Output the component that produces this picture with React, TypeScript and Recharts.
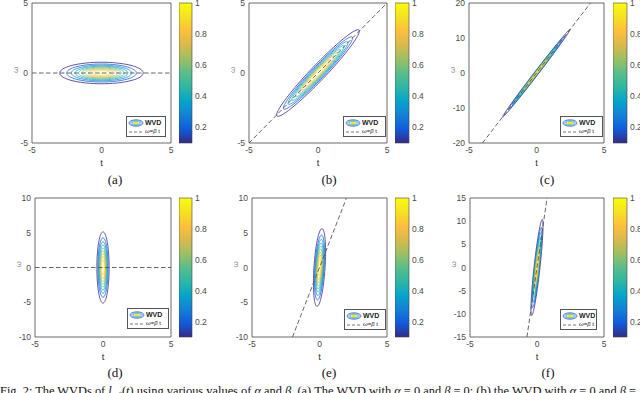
import React from "react";
import { ScatterChart, Scatter, XAxis, YAxis, ReferenceArea, ComposedChart } from "recharts";

// values
const panelLabels = ["(a)", "(b)", "(c)", "(d)", "(e)", "(f)"];
const betaValues = [0, 1, 5, 0, 5, 20];
// half width in t of the outermost (0.1) contour
const outerHalfT = [3.0, 3.0, 2.5, 0.45, 0.45, 0.45];
const omegaLimits = [5, 5, 20, 10, 10, 15];
const tLimit = 5;
const tTicks = [-5, 0, 5];
const omegaTicks = [
  [-5, 0, 5],
  [-5, 0, 5],
  [-20, -10, 0, 10, 20],
  [-10, -5, 0, 5, 10],
  [-10, -5, 0, 5, 10],
  [-15, -10, -5, 0, 5, 10, 15],
];
const contourLevels = [0.1, 0.2, 0.3, 0.4, 0.5, 0.6, 0.7, 0.8, 0.9];
const colorbarTicks = [0.2, 0.4, 0.6, 0.8, 1];
const colorbarMin = 0.1;
const colorbarMax = 1;

const parulaStops: [number, string][] = [
  [0, "#352a87"],
  [0.1, "#0f5cdd"],
  [0.2, "#1481d6"],
  [0.3, "#06a4ca"],
  [0.4, "#2eb7a4"],
  [0.5, "#5abd8a"],
  [0.6, "#9dbf64"],
  [0.7, "#d8ba4b"],
  [0.8, "#fcbf3d"],
  [0.9, "#f5e222"],
  [1, "#f9fb0e"],
];

const FONT = '"Liberation Sans", Arial, sans-serif';
const SERIF = '"Liberation Serif", "Times New Roman", serif';

const layout = [
  { left: 32, top: 3, w: 139, h: 140, cb: 179, cbw: 13, capX: 115, capY: 180, legR: 5, legB: 6, legW: 40 },
  { left: 249, top: 3, w: 138, h: 140, cb: 395, cbw: 14, capX: 329, capY: 180, legR: 1, legB: 6, legW: 43 },
  { left: 469, top: 3, w: 135, h: 140, cb: 613, cbw: 14, capX: 547, capY: 180, legR: 1, legB: 6, legW: 43 },
  { left: 35, top: 198, w: 136, h: 139, cb: 179, cbw: 13, capX: 115, capY: 373, legR: 2, legB: 8, legW: 42 },
  { left: 252, top: 198, w: 135, h: 139, cb: 395, cbw: 14, capX: 329, capY: 373, legR: 1, legB: 7, legW: 42 },
  { left: 470, top: 198, w: 134, h: 139, cb: 613, cbw: 14, capX: 548, capY: 373, legR: 7, legB: 7, legW: 37 },
];

const YW = 30;
const MT = 7;
const MR = 4;
const XH = 24;
const MB = 4;

function hexToRgb(h: string) {
  return [parseInt(h.slice(1, 3), 16), parseInt(h.slice(3, 5), 16), parseInt(h.slice(5, 7), 16)];
}

function parula(v: number) {
  const x = Math.max(0, Math.min(1, v));
  for (let i = 0; i < parulaStops.length - 1; i++) {
    const [a, ca] = parulaStops[i];
    const [b, cb] = parulaStops[i + 1];
    if (x <= b) {
      const f = (x - a) / (b - a);
      const A = hexToRgb(ca);
      const B = hexToRgb(cb);
      const c = A.map((n, k) => Math.round(n + (B[k] - n) * f));
      return `rgb(${c[0]},${c[1]},${c[2]})`;
    }
  }
  return parulaStops[parulaStops.length - 1][1];
}

// outline of one contour of the chirped gaussian WVD
function contourOutline(sigma: number, beta: number, level: number) {
  const r = Math.sqrt(-Math.log(level));
  const pts = [];
  for (let k = 0; k <= 96; k++) {
    const th = (k / 96) * 2 * Math.PI;
    const t = sigma * r * Math.cos(th);
    const w = beta * t + (r / sigma) * Math.sin(th);
    pts.push({ t, w });
  }
  return pts;
}

const noShape = () => <g />;

const tickStyle = { fontSize: 8.5, fill: "#4a4a4a", fontFamily: FONT };

function LegendBox({ width }: { width: number }) {
  return (
    <div
      style={{
        width,
        height: 21,
        boxSizing: "border-box",
        border: "0.8px solid #555",
        background: "#fff",
        fontFamily: FONT,
        color: "#222",
        fontSize: 7,
        lineHeight: "9.5px",
        paddingTop: 0.5,
      }}
    >
      <div style={{ display: "flex", alignItems: "center", height: 10 }}>
        <svg width={16} height={8} style={{ marginLeft: 1, marginRight: 1 }}>
          <ellipse cx={8} cy={4} rx={7} ry={3.2} fill="none" stroke={parula(0.05)} strokeWidth={0.7} />
          <ellipse cx={8} cy={4} rx={5.4} ry={2.3} fill="none" stroke={parula(0.25)} strokeWidth={0.7} />
          <ellipse cx={8} cy={4} rx={3.8} ry={1.5} fill="none" stroke={parula(0.45)} strokeWidth={0.7} />
          <ellipse cx={8} cy={4} rx={2.4} ry={0.9} fill={parula(0.95)} stroke={parula(0.8)} strokeWidth={0.5} />
        </svg>
        <span style={{ fontWeight: 600 }}>WVD</span>
      </div>
      <div style={{ display: "flex", alignItems: "center", height: 9 }}>
        <svg width={16} height={6} style={{ marginLeft: 1, marginRight: 1 }}>
          <line x1={1} y1={3} x2={15} y2={3} stroke="#555" strokeWidth={0.8} strokeDasharray="3 2" />
        </svg>
        <span style={{ fontSize: 6 }}>
          <i>ω</i>=<i>β</i> t
        </span>
      </div>
    </div>
  );
}

function Panel({ index }: { index: number }) {
  const box = layout[index];
  const beta = betaValues[index];
  const wMax = omegaLimits[index];
  const sigma = outerHalfT[index] / Math.sqrt(-Math.log(contourLevels[0]));
  const contours = contourLevels.map((level) => ({
    level,
    points: contourOutline(sigma, beta, level),
    color: parula((level - colorbarMin) / (colorbarMax - colorbarMin)),
  }));
  const tEnd = beta === 0 ? tLimit : Math.min(tLimit, wMax / beta);
  const ridge = [
    { t: -tEnd, w: -beta * tEnd },
    { t: tEnd, w: beta * tEnd },
  ];
  const gid = `parula-${index}`;

  return (
    <>
      <div style={{ position: "absolute", left: box.left - YW, top: box.top - MT }}>
        <ScatterChart
          width={YW + box.w + MR}
          height={MT + box.h + XH + MB}
          margin={{ top: MT, right: MR, left: 0, bottom: MB }}
        >
          <XAxis
            type="number"
            dataKey="t"
            domain={[-tLimit, tLimit]}
            ticks={tTicks}
            allowDataOverflow
            height={XH}
            axisLine={false}
            tickLine={false}
            tickSize={2}
            tickMargin={2}
            tick={tickStyle}
            label={{ value: "t", position: "insideBottom", offset: 1, fontSize: 9.5, fill: "#333", fontFamily: FONT }}
          />
          <YAxis
            type="number"
            dataKey="w"
            domain={[-wMax, wMax]}
            ticks={omegaTicks[index]}
            allowDataOverflow
            width={YW}
            axisLine={false}
            tickLine={false}
            tickSize={2}
            tickMargin={2}
            tick={tickStyle}
            label={{ value: "ω", angle: -90, position: "insideLeft", offset: 13, fontSize: 8, fill: "#888", fontFamily: FONT }}
          />
          {contours.map((c) => (
            <Scatter
              key={c.level}
              data={c.points}
              fill={c.color}
              line={{ stroke: c.color, strokeWidth: 0.8 }}
              shape={noShape}
              isAnimationActive={false}
            />
          ))}
          <Scatter
            data={ridge}
            fill="#555"
            line={{ stroke: "#555", strokeWidth: 0.9, strokeDasharray: "4.5 2.5" }}
            shape={noShape}
            isAnimationActive={false}
          />
          <ReferenceArea
            x1={-tLimit}
            x2={tLimit}
            y1={-wMax}
            y2={wMax}
            fill="none"
            stroke="#444"
            strokeWidth={0.8}
            ifOverflow="visible"
          />
        </ScatterChart>
      </div>
      <div
        style={{
          position: "absolute",
          left: box.left + box.w - box.legR - box.legW,
          top: box.top + box.h - box.legB - 21,
        }}
      >
        <LegendBox width={box.legW} />
      </div>
      <div style={{ position: "absolute", left: box.cb, top: box.top - MT }}>
        <ComposedChart
          width={box.cbw + 26}
          height={MT + box.h + 6}
          margin={{ top: MT, right: 0, left: 0, bottom: 6 }}
          data={[
            { x: 0, v: colorbarMin },
            { x: 1, v: colorbarMax },
          ]}
        >
          <defs>
            <linearGradient id={gid} x1="0" y1="1" x2="0" y2="0">
              {parulaStops.map(([o, c]) => (
                <stop key={o} offset={o} stopColor={c} />
              ))}
            </linearGradient>
          </defs>
          <XAxis type="number" dataKey="x" domain={[0, 1]} hide />
          <YAxis
            type="number"
            dataKey="v"
            orientation="right"
            domain={[colorbarMin, colorbarMax]}
            ticks={colorbarTicks}
            width={26}
            axisLine={false}
            tickLine={false}
            tickSize={0}
            tickMargin={3}
            tick={tickStyle}
            tickFormatter={(v: number) => String(Math.round(v * 10) / 10)}
          />
          <Scatter dataKey="v" shape={noShape} isAnimationActive={false} />
          <ReferenceArea
            x1={0}
            x2={1}
            y1={colorbarMin}
            y2={colorbarMax}
            fill={`url(#${gid})`}
            fillOpacity={1}
            stroke="#444"
            strokeWidth={0.6}
          />
        </ComposedChart>
      </div>
      <div
        style={{
          position: "absolute",
          left: box.capX - 20,
          width: 40,
          top: box.capY - 8,
          textAlign: "center",
          fontFamily: SERIF,
          fontSize: 13,
          lineHeight: "16px",
          color: "#111",
        }}
      >
        {panelLabels[index]}
      </div>
    </>
  );
}

export default function App() {
  return (
    <div
      style={{
        position: "absolute",
        left: 0,
        top: 0,
        width: 640,
        height: 393,
        overflow: "hidden",
        background: "#fff",
      }}
    >
      {panelLabels.map((_, i) => (
        <Panel key={i} index={i} />
      ))}
      <div
        style={{
          position: "absolute",
          left: 0,
          top: 384,
          whiteSpace: "nowrap",
          fontFamily: SERIF,
          fontSize: 12.4,
          lineHeight: "14px",
          color: "#111",
        }}
      >
        Fig. 2: The WVDs of <i>l</i>
        <sub style={{ fontSize: 8 }}>
          <i>α</i>,<i>β</i>
        </sub>
        (<i>t</i>) using various values of <i>α</i> and <i>β</i>. (a) The WVD with <i>α</i> = 0 and <i>β</i> = 0; (b) the
        WVD with <i>α</i> = 0 and <i>β</i> = 1
      </div>
    </div>
  );
}
